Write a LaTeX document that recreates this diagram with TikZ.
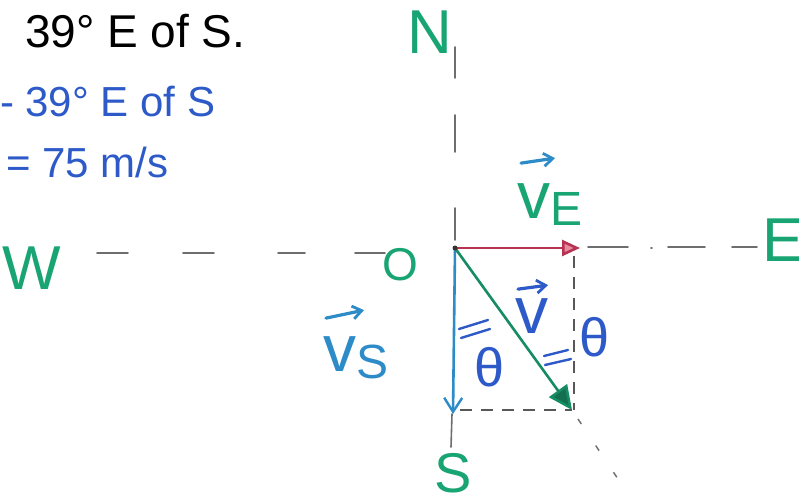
\documentclass[tikz,border=0pt]{standalone}
\usepackage{fontspec}
\setmainfont{Liberation Sans}
\setsansfont{Liberation Sans}
\usetikzlibrary{arrows.meta}
\definecolor{hgreen}{RGB}{25,165,115}
\definecolor{hblue}{RGB}{45,90,200}
\definecolor{hcyan}{RGB}{45,140,200}
\definecolor{hred}{RGB}{215,60,95}
\definecolor{hdark}{RGB}{20,110,80}
\definecolor{axisgray}{RGB}{110,110,110}
\begin{document}
\begin{tikzpicture}[x=1pt,y=-1pt,
  axisdash/.style={draw=axisgray,line width=1.6pt,line cap=round},
  guide/.style={draw=axisgray!80!black,line width=1.4pt,dash pattern=on 12pt off 9pt},
  dotguide/.style={draw=axisgray,line width=1.4pt,dash pattern=on 6pt off 26pt},
  vecline/.style={line width=2.6pt,line cap=round},
  lbl/.style={inner sep=0pt,outer sep=0pt},
  axislbl/.style={lbl,text=hgreen,font=\fontsize{62}{64}\selectfont},
  bigtext/.style={lbl,anchor=base west,font=\fontsize{46}{50}\selectfont},
  handtext/.style={lbl,anchor=base west,text=hblue,font=\fontsize{42}{46}\selectfont},
  veclbl/.style={lbl,anchor=base west,font=\fontsize{66}{68}\selectfont},
  overarrow/.style={line width=3.2pt,line cap=round,-{Straight Barb[length=9pt,width=13pt,line width=2.8pt]}},
  thetalbl/.style={lbl,text=hblue,font=\fontsize{54}{56}\selectfont},
  anglemark/.style={draw=hblue,line width=2.4pt,line cap=round}
]
\useasboundingbox (0,0) rectangle (799,503);
\fill[white] (0,0) rectangle (799,503);

% header texts
\node[bigtext] (title) at (25,48) {39° E of S.};
\node[handtext] (dir) at (0,116) {- 39° E of S};
\node[handtext] (speed) at (6,177) {= 75 m/s};

% axis labels
\node[axislbl] (N) at (430,32) {N};
\node[axislbl] (W) at (32,268) {W};
\node[axislbl] (E) at (783,240) {E};
\node[axislbl,font=\fontsize{56}{58}\selectfont] (S) at (453,473) {S};
\node[lbl,text=hgreen,font=\fontsize{46}{48}\selectfont] (Olbl) at (400,265) {O};

% axes (dashed)
\foreach \ya/\yb in {47/78,115/152,208/240}
  \draw[axisdash] (455,\ya) -- (455,\yb);
\foreach \xa/\xb in {97/128,183/214,278/305,355/385}
  \draw[axisdash] (\xa,253) -- (\xb,253);
\foreach \xa/\xb in {588/628,668/705,732/757}
  \draw[axisdash] (\xa,247) -- (\xb,247);
\draw[axisdash] (651,248) -- (652,248);
\draw[axisdash] (452,414) -- (451,447);

% vector points
\coordinate (O) at (455,248);
\coordinate (Ev) at (580,248);
\coordinate (Sv) at (453,414);
\coordinate (V) at (572,410);
\coordinate (Ctop) at (574,256);
\coordinate (Cbot) at (574,410);
\coordinate (Sleft) at (460,410);
\coordinate (Ext) at (630,497);

% guide lines
\draw[guide] (Ctop) -- (Cbot);
\draw[guide] (Sleft) -- (V);
\draw[dotguide] (V) ++(6,9) -- (Ext);

% vectors
\draw[vecline,draw=hred!85!black,-{Triangle[length=18pt,width=16pt,fill=hred!60]}] (O) -- (Ev);
\draw[vecline,draw=hcyan,-{Straight Barb[length=14pt,width=18pt,line width=2.4pt]}] (O) -- (Sv);
\draw[vecline,draw=hgreen!85!black,-{Triangle[length=24pt,width=22pt,fill=hdark]}] (O) -- (V);
\fill[black!80] (O) circle (2.5pt);

% vector labels (letters with hand-drawn arrows above)
\node[veclbl,text=hgreen] (vE) at (517,218)
  {v\raisebox{-0.12em}{\fontsize{48}{50}\selectfont E}};
\draw[overarrow,draw=hcyan] ([xshift=4pt,yshift=20pt]vE.north west) -- ++(34,-5);
\node[veclbl,text=hblue] (vv) at (515,333) {v};
\draw[overarrow,draw=hblue] ([xshift=3pt,yshift=9pt]vv.north west) -- ++(30,-4);
\node[veclbl,text=hcyan] (vS) at (323,371)
  {v\raisebox{-0.12em}{\fontsize{48}{50}\selectfont S}};
\draw[overarrow,draw=hcyan] ([xshift=3pt,yshift=18pt]vS.north west) -- ++(38,-8);
\node[thetalbl] (th1) at (490,367) {θ};
\node[thetalbl] (th2) at (595,337) {θ};

% angle marks
\draw[anglemark] (459,329) -- (488,320);
\draw[anglemark] (461,338) -- (490,329);
\draw[anglemark] (544,356) -- (568,350);
\draw[anglemark] (545,365) -- (571,359);
\end{tikzpicture}
\end{document}
